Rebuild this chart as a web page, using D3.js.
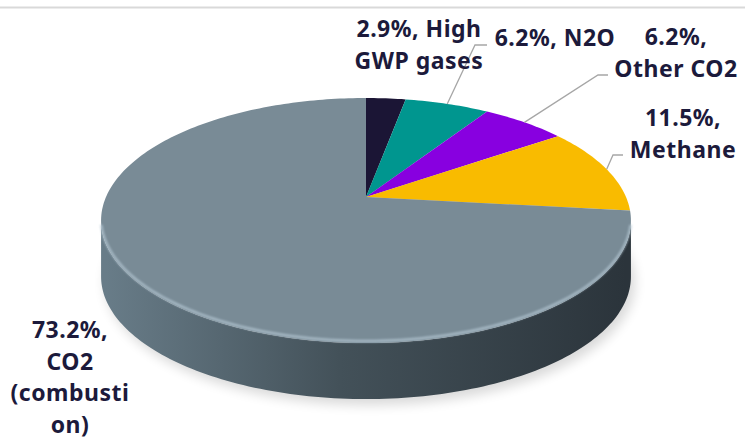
<!DOCTYPE html>
<html lang="en">
<head>
    <meta charset="UTF-8">
    <title>Emissions by gas</title>
    <script src="https://d3js.org/d3.v7.min.js"></script>
    <style>
        body { margin: 0; background: #fff; }
        text { font-family: "Noto Sans", "Open Sans", sans-serif; font-weight: 700; fill: #1c1a3b; }
    </style>
</head>
<body>
    <script>
        // data
        const categories = ["High GWP gases", "N2O", "Other CO2", "Methane", "CO2 (combustion)"];
        const values = [2.9, 6.2, 6.2, 11.5, 73.2];
        const colors = ["#1b1535", "#00968f", "#8800e0", "#f9bb00", "#798b96"];
        // how each label wraps ({v} is the share)
        const labelLines = [
            ["{v}, High", "GWP gases"],
            ["{v}, N2O"],
            ["{v},", "Other CO2"],
            ["{v},", "Methane"],
            ["{v},", "CO2", "(combusti", "on)"]
        ];

        // label layout: center x, first baseline, and leader elbow (null = no leader)
        const labelPos = [
            { x: 419, y: 37, elbow: null },
            { x: 555, y: 46, elbow: [[475, 45], [487, 45]] },
            { x: 676, y: 45, elbow: [[598, 75], [608, 75]] },
            { x: 683, y: 126, elbow: [[613, 155], [623, 155]] },
            { x: 70, y: 338, elbow: null }
        ];

        const width = 745, height = 441;
        const cx = 366, cy = 197, rx = 260, ry = 118, persp = 0.192, depth = 56;
        const lineH = 31.5;

        const svg = d3.select("body").append("svg")
            .attr("width", width)
            .attr("height", height);

        const defs = svg.append("defs");
        defs.append("filter").attr("id", "shadow")
            .attr("x", "-20%").attr("y", "-20%").attr("width", "140%").attr("height", "140%")
            .append("feGaussianBlur").attr("stdDeviation", 6);
        defs.append("filter").attr("id", "soft")
            .append("feGaussianBlur").attr("stdDeviation", 1.2);

        const sideGrad = defs.append("linearGradient").attr("id", "side")
            .attr("gradientUnits", "userSpaceOnUse")
            .attr("x1", cx - rx).attr("x2", cx + rx).attr("y1", 0).attr("y2", 0);
        sideGrad.append("stop").attr("offset", "0%").attr("stop-color", "#687c88");
        sideGrad.append("stop").attr("offset", "45%").attr("stop-color", "#435159");
        sideGrad.append("stop").attr("offset", "100%").attr("stop-color", "#2b343b");

        // top rule
        svg.append("line")
            .attr("x1", 0).attr("x2", width)
            .attr("y1", 7.5).attr("y2", 7.5)
            .attr("stroke", "#d9d9d9").attr("stroke-width", 2);

        // unit circle -> screen, with a bit of perspective (far side smaller)
        const xs = d3.scaleLinear().domain([-1, 1]).range([cx - rx, cx + rx]);
        const ys = d3.scaleLinear().domain([-1, 1]).range([cy + ry, cy - ry]);
        function proj(a, dy) {
            const f = 1 / (1 + persp * Math.cos(a));
            return [xs(Math.sin(a) * f), ys(Math.cos(a) * f) + (dy || 0)];
        }
        function arcPts(a0, a1, dy) {
            const n = Math.max(2, Math.ceil((a1 - a0) / 0.02));
            return d3.range(n + 1).map(i => proj(a0 + (a1 - a0) * i / n, dy));
        }

        const pie = d3.pie().sort(null).value(d => d);
        const arcs = pie(values);
        const line = d3.line();

        // shadow under the base
        const visA0 = Math.acos(-persp), visA1 = 2 * Math.PI - Math.acos(-persp);
        svg.append("path")
            .attr("d", line(arcPts(0, 2 * Math.PI, depth + 4)) + "Z")
            .attr("transform", "translate(4,2)")
            .attr("fill", "#000").attr("opacity", 0.15)
            .attr("filter", "url(#shadow)");

        // visible sides
        arcs.forEach((d, i) => {
            const a0 = Math.max(d.startAngle, visA0), a1 = Math.min(d.endAngle, visA1);
            if (a1 <= a0) return;
            const pts = arcPts(a0, a1, 0).concat(arcPts(a0, a1, depth).reverse());
            svg.append("path")
                .attr("d", line(pts) + "Z")
                .attr("fill", i === 4 ? "url(#side)" : d3.color(colors[i]).darker(0.8));
        });

        // top faces
        arcs.forEach((d, i) => {
            const pts = [[cx, cy]].concat(arcPts(d.startAngle, d.endAngle, 0));
            svg.append("path")
                .attr("d", line(pts) + "Z")
                .attr("fill", colors[i]);
        });

        // rim highlight along the front edge
        svg.append("path")
            .attr("d", line(arcPts(visA0 + 0.05, visA1 - 0.05, -2)))
            .attr("fill", "none")
            .attr("stroke", "#b3c6d2").attr("stroke-width", 2.5)
            .attr("opacity", 0.8)
            .attr("filter", "url(#soft)");

        // leaders
        arcs.forEach((d, i) => {
            const p = labelPos[i];
            if (!p.elbow) return;
            const start = proj((d.startAngle + d.endAngle) / 2, 0);
            svg.append("path")
                .attr("d", line([start].concat(p.elbow)))
                .attr("fill", "none")
                .attr("stroke", "#a6a6a6").attr("stroke-width", 1.3);
        });

        // labels
        labelLines.forEach((lines, i) => {
            const p = labelPos[i];
            const t = svg.append("text")
                .attr("text-anchor", "middle")
                .attr("font-size", 23)
                .attr("letter-spacing", 0.5);
            lines.forEach((s, j) => {
                t.append("tspan")
                    .attr("x", p.x)
                    .attr("y", p.y + j * lineH)
                    .text(s.replace("{v}", values[i].toFixed(1) + "%"));
            });
        });
    </script>
</body>
</html>
